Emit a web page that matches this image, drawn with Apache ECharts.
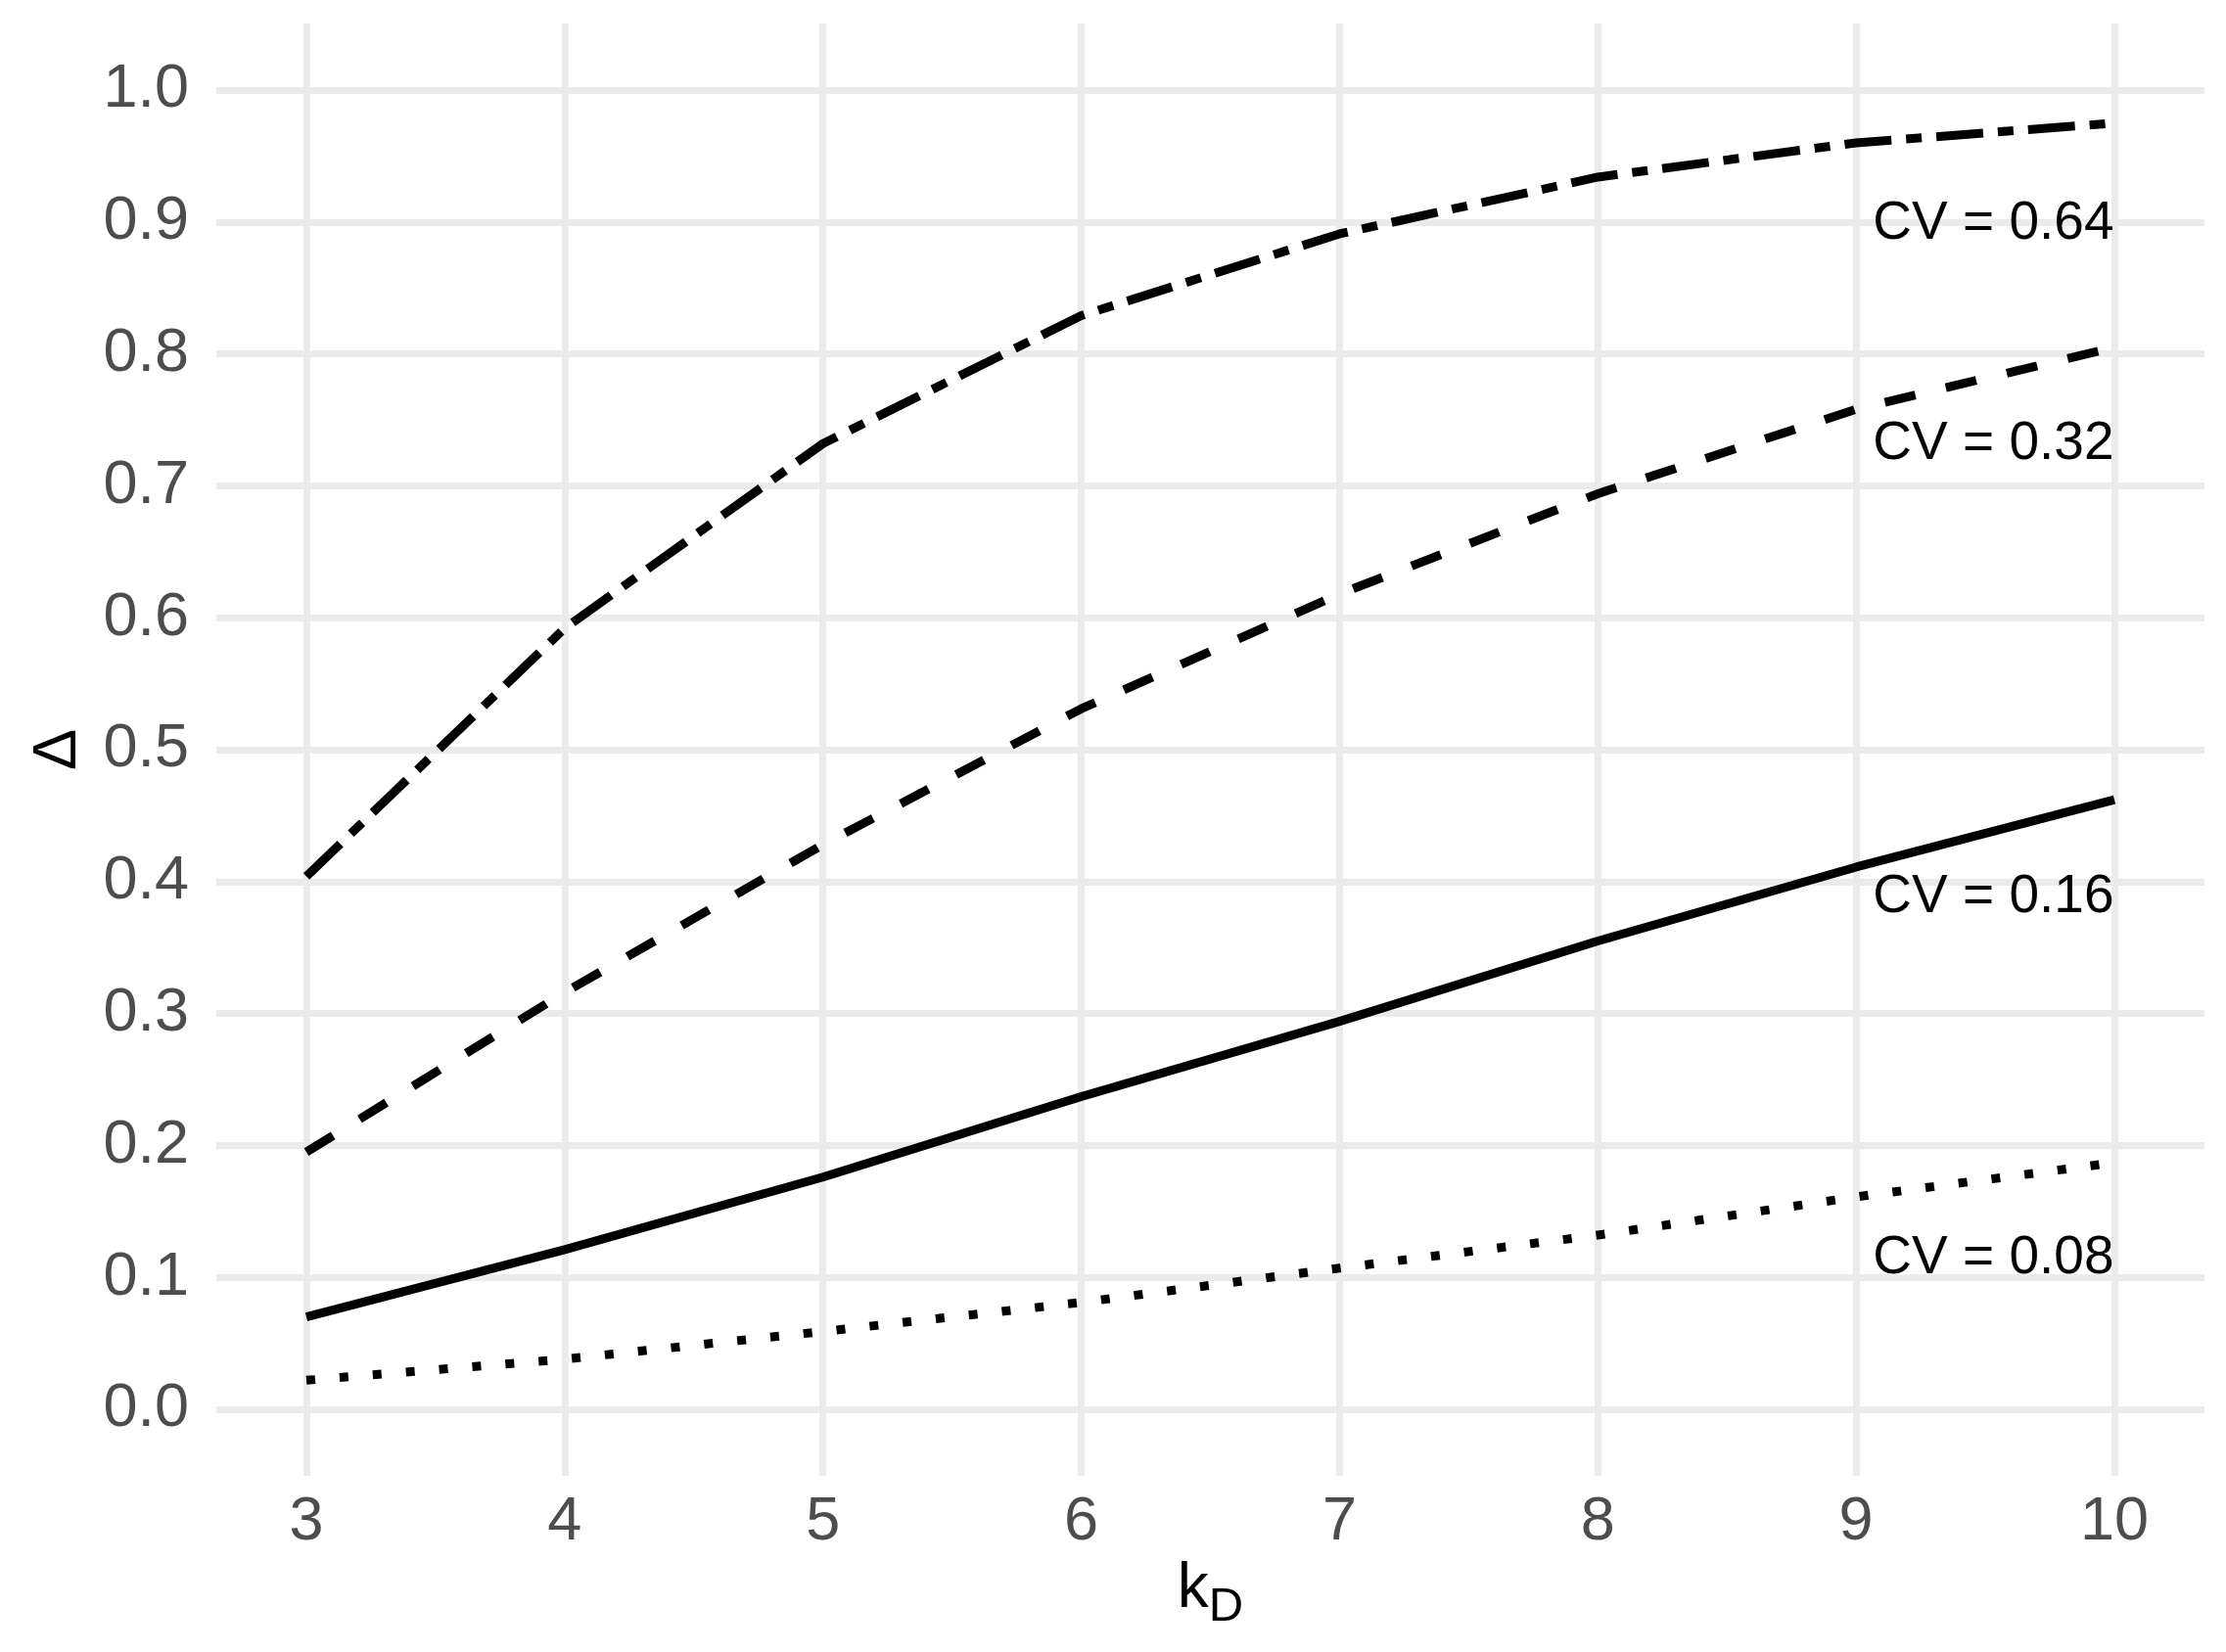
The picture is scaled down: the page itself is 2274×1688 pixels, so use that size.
<!DOCTYPE html>
<html>
<head>
<meta charset="utf-8">
<script src="https://cdn.jsdelivr.net/npm/echarts@6/dist/echarts.min.js"></script>
<style>
  html, body { margin: 0; padding: 0; background: #fff; }
  #chart { width: 2274px; height: 1688px; }
</style>
</head>
<body>
<div id="chart"></div>
<script>
// data
const kD = [3, 4, 5, 6, 7, 8, 9, 10]
const cv008 = [0.022, 0.038, 0.059, 0.081, 0.107, 0.132, 0.161, 0.187]
const cv016 = [0.070, 0.121, 0.176, 0.237, 0.294, 0.355, 0.411, 0.462]
const cv032 = [0.195, 0.316, 0.428, 0.531, 0.618, 0.694, 0.758, 0.805]
const cv064 = [0.404, 0.592, 0.732, 0.829, 0.891, 0.934, 0.960, 0.975]

// curve annotations
const cvLabels = ['CV = 0.64', 'CV = 0.32', 'CV = 0.16', 'CV = 0.08']
const cvLabelX = [10, 10, 10, 10]
const cvLabelY = [0.902, 0.735, 0.392, 0.118]

// ticks
const xTicks = { min: 3, max: 10, step: 1 }
const yTicks = { min: 0, max: 1, step: 0.1 }

const FONT = 'Liberation Sans'
const gridColor = '#ebebeb'
const tickColor = '#4d4d4d'

const chart = echarts.init(document.getElementById('chart'))

const makeLine = (name, values, dash) => ({
  name,
  type: 'line',
  xAxisIndex: 0,
  yAxisIndex: 0,
  data: kD.map((k, i) => [k, values[i]]),
  symbol: 'none',
  silent: true,
  lineStyle: { color: '#000', width: 9, type: dash, cap: 'butt', join: 'round' },
})

const option = {
  animation: false,
  backgroundColor: '#fff',
  textStyle: { fontFamily: FONT },
  grid: [
    // panel for the data (3..10, 0..1)
    { left: 313, right: 114, top: 92, bottom: 248 },
    // horizontal grid lines + y labels
    { left: 221, right: 22, top: 92, bottom: 248 },
    // vertical grid lines + x labels
    { left: 313, right: 114, top: 24, bottom: 180 },
  ],
  xAxis: [
    { gridIndex: 0, type: 'value', min: xTicks.min, max: xTicks.max, show: false },
    { gridIndex: 1, type: 'value', min: 0, max: 1, show: false },
    {
      gridIndex: 2,
      type: 'value',
      min: xTicks.min,
      max: xTicks.max,
      interval: xTicks.step,
      axisLine: { show: false },
      axisTick: { show: false },
      axisLabel: { fontSize: 63, color: tickColor, margin: 16, fontFamily: FONT },
      splitLine: { show: true, lineStyle: { color: gridColor, width: 7 } },
      name: '{k|k}{d|D}',
      nameLocation: 'middle',
      nameGap: 93,
      nameTextStyle: {
        rich: {
          k: { fontSize: 64, lineHeight: 64, color: '#000', fontFamily: FONT, verticalAlign: 'bottom', padding: [0, 0, 11, 0] },
          d: { fontSize: 49, lineHeight: 49, color: '#000', fontFamily: FONT, verticalAlign: 'bottom' },
        },
      },
    },
  ],
  yAxis: [
    { gridIndex: 0, type: 'value', min: yTicks.min, max: yTicks.max, show: false },
    {
      gridIndex: 1,
      type: 'value',
      min: yTicks.min,
      max: yTicks.max,
      interval: yTicks.step,
      axisLine: { show: false },
      axisTick: { show: false },
      axisLabel: {
        fontSize: 63,
        color: tickColor,
        margin: 28,
        fontFamily: FONT,
        formatter: (v) => v.toFixed(1),
      },
      splitLine: { show: true, lineStyle: { color: gridColor, width: 7 } },
      name: 'Δ',
      nameLocation: 'middle',
      nameGap: 130,
      nameTextStyle: { fontSize: 63, color: '#000', fontFamily: FONT },
    },
    { gridIndex: 2, type: 'value', min: 0, max: 1, show: false },
  ],
  series: [
    makeLine('CV = 0.08', cv008, [9, 25]),
    makeLine('CV = 0.16', cv016, 'solid'),
    makeLine('CV = 0.32', cv032, [32, 32]),
    makeLine('CV = 0.64', cv064, [48, 15, 16, 15]),
    {
      name: 'labels',
      type: 'scatter',
      xAxisIndex: 0,
      yAxisIndex: 0,
      silent: true,
      symbol: 'circle',
      symbolSize: 1,
      itemStyle: { color: 'rgba(0,0,0,0)' },
      data: cvLabels.map((t, i) => ({ name: t, value: [cvLabelX[i], cvLabelY[i]] })),
      label: {
        show: true,
        position: 'left',
        distance: 0,
        offset: [0, 5],
        formatter: '{b}',
        fontSize: 55,
        color: '#000',
        opacity: 1,
        fontFamily: FONT,
      },
      z: 5,
    },
  ],
}

chart.setOption(option)
</script>
</body>
</html>
